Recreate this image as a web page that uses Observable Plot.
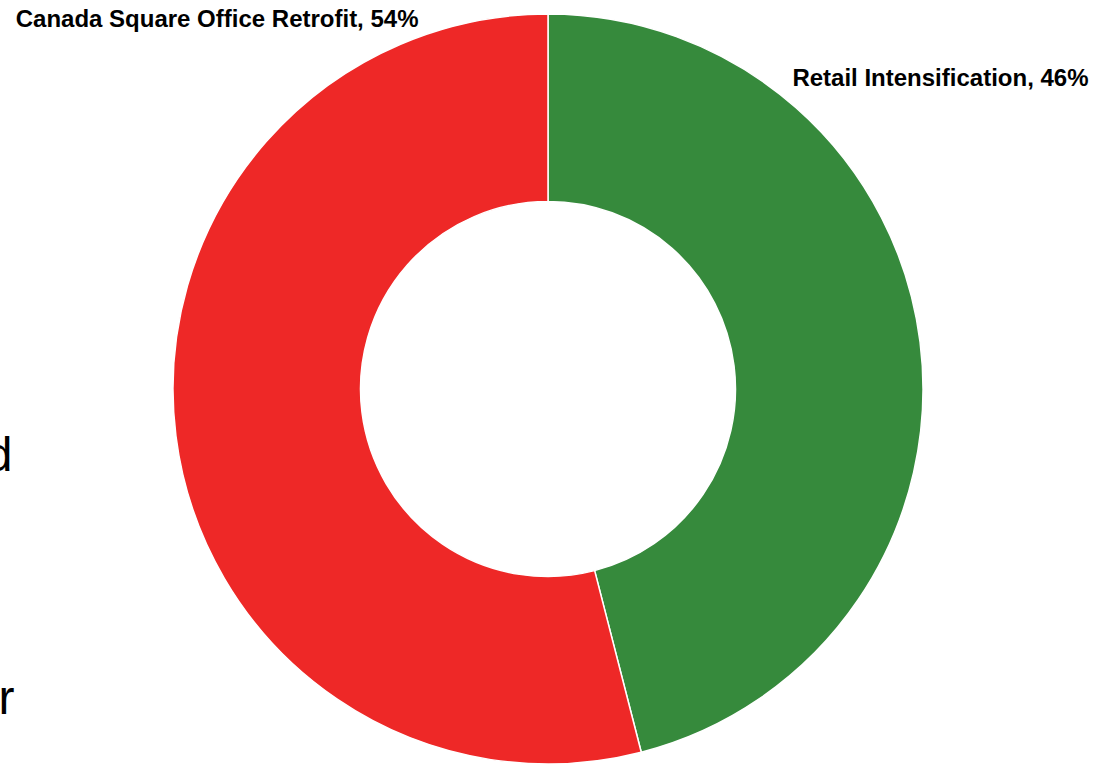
<!DOCTYPE html>
<html>
<head>
<meta charset="utf-8">
<script src="https://cdn.jsdelivr.net/npm/d3@7"></script>
<script src="https://cdn.jsdelivr.net/npm/@observablehq/plot@0.6"></script>
<style>
  html, body { margin: 0; padding: 0; background: #fff; overflow: hidden; }
  #chart svg { display: block; }
</style>
</head>
<body>
<div id="chart"></div>
<script>
// Data
const categories = ["Retail Intensification", "Canada Square Office Retrofit"];
const shares = [46, 54];
const colors = ["#368a3c", "#ee2827"];
const leftFragments = ["d", "r"];

const W = 1095, H = 764;
const cx = 548, cy = 389, R = 375;
const data = categories.map((c, i) => ({category: c, value: shares[i], color: colors[i]}));

const pie = d3.pie().sort(null).value(d => d.value).startAngle(0).endAngle(2 * Math.PI);
const arcsData = pie(data);

function donutMark(index, scales, values, dimensions) {
  const sx = scales.x, sy = scales.y;
  const x0 = sx(0), y0 = sy(0);
  const unit = Math.abs(sx(1) - sx(0));
  const arc = d3.arc().innerRadius(unit * 0.5).outerRadius(unit);
  const g = d3.create("svg:g").attr("transform", `translate(${x0},${y0})`);
  g.selectAll("path")
    .data(arcsData)
    .join("path")
    .attr("d", arc)
    .attr("fill", d => d.data.color)
    .attr("stroke", "#ffffff")
    .attr("stroke-width", 1.5)
    .attr("stroke-linejoin", "round");
  return g.node();
}

const labelRows = [
  {text: `${categories[1]}, ${shares[1]}%`, x: (418 - cx) / R, y: (cy - 18.5) / R},
  {text: `${categories[0]}, ${shares[0]}%`, x: (1088 - cx) / R, y: (cy - 78) / R}
];
const fragRows = [
  {text: leftFragments[0], x: (12 - cx) / R, y: (cy - 470) / R},
  {text: leftFragments[1], x: (14 - cx) / R, y: (cy - 713) / R}
];

const chart = Plot.plot({
  width: W,
  height: H,
  margin: 0,
  x: {domain: [-cx / R, (W - cx) / R], range: [0, W], axis: null},
  y: {domain: [-(H - cy) / R, cy / R], range: [H, 0], axis: null},
  style: {background: "#ffffff", fontFamily: "Liberation Sans, Arial, sans-serif"},
  marks: [
    donutMark,
    Plot.text(labelRows, {
      x: "x", y: "y", text: "text",
      textAnchor: "end", fontSize: 24, fontWeight: "bold", fill: "#000000"
    }),
    Plot.text(fragRows, {
      x: "x", y: "y", text: "text",
      textAnchor: "end", lineAnchor: "bottom", fontSize: 48, fill: "#000000"
    })
  ]
});

document.getElementById("chart").appendChild(chart);
</script>
</body>
</html>
